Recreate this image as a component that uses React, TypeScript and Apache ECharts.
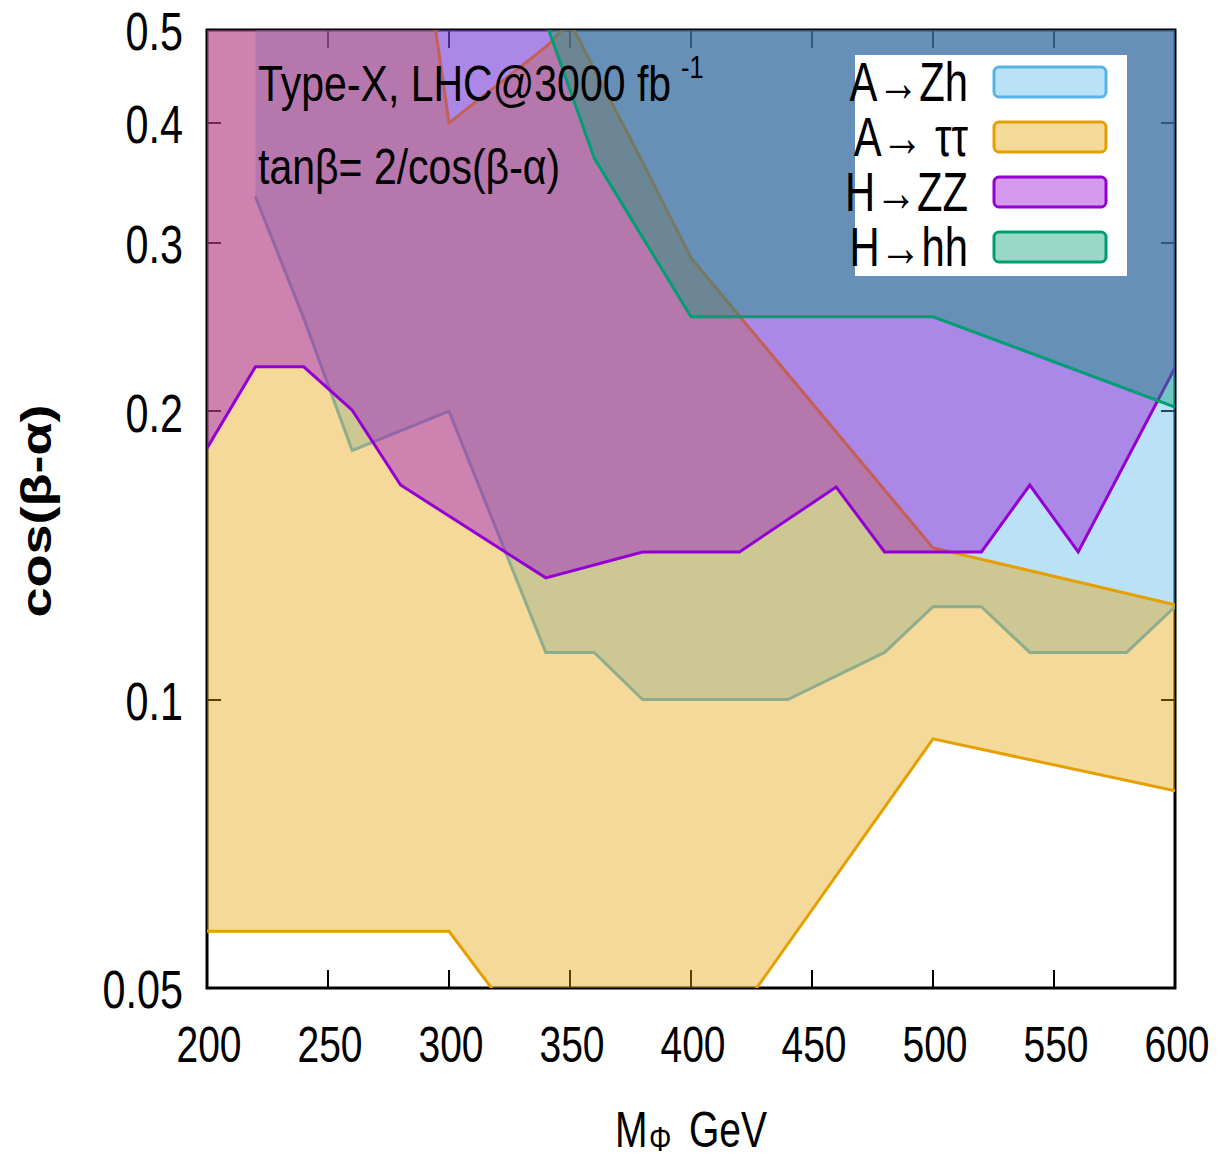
import React, { useEffect, useRef } from 'react';
import * as echarts from 'echarts';

// ---------- axes ----------
const X_MIN = 200;
const X_MAX = 600;
const X_TICKS = [200, 250, 300, 350, 400, 450, 500, 550, 600];
const Y_MIN = 0.05;
const Y_MAX = 0.5;
const Y_TICKS = [0.05, 0.1, 0.2, 0.3, 0.4, 0.5];
const Y_CEIL = 0.6; // regions extend past the top of the frame

// ---------- series ----------
const SERIES_NAMES = ['A→Zh', 'A→ ττ', 'H→ZZ', 'H→hh'];
const SERIES_COLORS = ['#56b4e9', '#e69f00', '#9400d3', '#009e73'];
const SERIES_FILLS = ['rgba(86,180,233,0.4)', 'rgba(230,159,0,0.4)', 'rgba(148,0,211,0.4)', 'rgba(0,158,115,0.4)'];

// A→Zh : region above this edge
const ZH_X = [220, 240, 260, 300, 340, 360, 380, 440, 480, 500, 520, 540, 580, 600];
const ZH_Y = [0.335, 0.25, 0.182, 0.2, 0.112, 0.112, 0.1, 0.1, 0.112, 0.125, 0.125, 0.112, 0.112, 0.125];

// A→ττ : band between lower and upper edges
const TT_LOW_X = [200, 300, 340, 400, 500, 600];
const TT_LOW_Y = [0.0573, 0.0573, 0.042, 0.04, 0.091, 0.0803];
const TT_UP_X = [200, 280, 300, 340, 350, 360, 380, 400, 500, 600];
const TT_UP_Y = [0.9, 0.9, 0.4, 0.48, 0.51, 0.455, 0.364, 0.289, 0.144, 0.1256];

// H→ZZ : region above this edge
const ZZ_X = [200, 220, 240, 260, 280, 340, 380, 420, 460, 480, 520, 540, 560, 600];
const ZZ_Y = [0.183, 0.2225, 0.2225, 0.2005, 0.1675, 0.134, 0.1426, 0.1426, 0.1667, 0.1426, 0.1426, 0.1675, 0.1426, 0.222];

// H→hh : region above this edge
const HH_X = [340, 360, 400, 500, 600];
const HH_Y = [0.51, 0.3676, 0.251, 0.251, 0.202];

const FONT = "'Liberation Sans', Arial, Helvetica, sans-serif";
const SQUEEZE = 0.78; // the reference's lettering is horizontally condensed

const zip = (xs: number[], ys: number[]) => xs.map((x, i) => [x, ys[i]]);

function regionSeries(idx: number, polygon: number[][], edges: number[][][]) {
  return {
    type: 'custom',
    name: SERIES_NAMES[idx],
    coordinateSystem: 'cartesian2d',
    xAxisIndex: 0,
    yAxisIndex: 0,
    clip: true,
    silent: true,
    z: 2 + idx,
    data: [polygon[0]],
    renderItem: (_params: any, api: any) => {
      const pts = polygon.map((p) => api.coord(p));
      const children: any[] = [
        { type: 'polygon', shape: { points: pts }, style: { fill: SERIES_FILLS[idx], stroke: null } },
      ];
      edges.forEach((e) => {
        children.push({
          type: 'polyline',
          shape: { points: e.map((p) => api.coord(p)) },
          style: { stroke: SERIES_COLORS[idx], lineWidth: 3, fill: null, lineJoin: 'miter' },
        });
      });
      return { type: 'group', children };
    },
  };
}

function txt(text: string, x: number, y: number, size: number, align: string, extra: any = {}) {
  return {
    type: 'text',
    x,
    y,
    z: 100,
    scaleX: SQUEEZE,
    silent: true,
    ...extra,
    style: { text, fill: '#000', font: `${size}px ${FONT}`, align, verticalAlign: 'middle' },
  };
}

export default function App() {
  const ref = useRef<HTMLDivElement>(null);

  useEffect(() => {
    if (!ref.current) return;
    const chart = echarts.init(ref.current, undefined, { renderer: 'svg' });

    const zhEdge = zip(ZH_X, ZH_Y);
    const zhPoly = [...zhEdge, [X_MAX, Y_CEIL], [ZH_X[0], Y_CEIL]];

    const ttLow = zip(TT_LOW_X, TT_LOW_Y);
    const ttUp = zip(TT_UP_X, TT_UP_Y);
    const ttPoly = [...ttLow, ...ttUp.slice().reverse()];

    const zzEdge = zip(ZZ_X, ZZ_Y);
    const zzPoly = [...zzEdge, [X_MAX, Y_CEIL], [X_MIN, Y_CEIL]];

    const hhEdge = zip(HH_X, HH_Y);
    const hhPoly = [...hhEdge, [X_MAX, Y_CEIL], [HH_X[0], Y_CEIL]];

    const tickStyle = { color: '#000', width: 2 };

    chart.setOption({
      animation: false,
      backgroundColor: '#fff',
      grid: {
        left: 207,
        top: 30,
        width: 968,
        height: 958,
        show: true,
        borderColor: '#000',
        borderWidth: 3,
        backgroundColor: 'transparent',
        containLabel: false,
      },
      xAxis: [
        {
          type: 'value',
          min: X_MIN,
          max: X_MAX,
          interval: 50,
          position: 'bottom',
          axisLine: { show: false },
          axisTick: { show: true, inside: true, length: 18, lineStyle: tickStyle },
          axisLabel: { show: false },
          splitLine: { show: false },
        },
        {
          type: 'value',
          min: X_MIN,
          max: X_MAX,
          interval: 50,
          position: 'top',
          axisLine: { show: false },
          axisTick: { show: true, inside: true, length: 18, lineStyle: tickStyle },
          axisLabel: { show: false },
          splitLine: { show: false },
        },
      ],
      yAxis: [
        {
          type: 'log',
          logBase: 10,
          min: Y_MIN,
          max: Y_MAX,
          position: 'left',
          axisLine: { show: false },
          axisTick: { show: true, inside: true, length: 14, lineStyle: tickStyle, customValues: Y_TICKS },
          axisLabel: { show: false },
          splitLine: { show: false },
          minorTick: { show: false },
        },
        {
          type: 'log',
          logBase: 10,
          min: Y_MIN,
          max: Y_MAX,
          position: 'right',
          axisLine: { show: false },
          axisTick: { show: true, inside: true, length: 14, lineStyle: tickStyle, customValues: Y_TICKS },
          axisLabel: { show: false },
          splitLine: { show: false },
        },
      ],
      series: [
        regionSeries(0, zhPoly, [zhEdge]),
        regionSeries(1, ttPoly, [ttLow, ttUp]),
        regionSeries(2, zzPoly, [zzEdge]),
        regionSeries(3, hhPoly, [hhEdge]),
      ],
    });

    // tick labels placed through the axes' own scales
    const graphics: any[] = [];
    const grid = { left: 207, top: 30, width: 968, height: 958 };
    X_TICKS.forEach((v) => {
      const px = chart.convertToPixel({ xAxisIndex: 0 }, v) as number;
      graphics.push(txt(String(v), px + 2, grid.top + grid.height + 57, 50, 'center'));
    });
    Y_TICKS.forEach((v) => {
      const py = chart.convertToPixel({ yAxisIndex: 0 }, v) as number;
      graphics.push(txt(String(v), grid.left - 24, py + 2, 53, 'right'));
    });

    // annotation
    graphics.push(txt('Type-X, LHC@3000 fb', 258, 84, 50, 'left', { scaleX: 0.82 }));
    graphics.push(txt('-1', 681, 67, 31, 'left', { scaleX: 0.82 }));
    graphics.push(txt('tanβ= 2/cos(β-α)', 258, 167, 50, 'left', { scaleX: 0.82 }));

    // legend: label right-aligned, swatch on its right
    const legendRows = [82, 137, 192, 247];
    graphics.push({ type: 'rect', z: 90, silent: true, shape: { x: 855, y: 55, width: 272, height: 221 }, style: { fill: '#fff' } });
    SERIES_NAMES.forEach((name, i) => {
      graphics.push(txt(name, 968, legendRows[i], 55, 'right', { scaleX: 0.76 }));
      graphics.push({
        type: 'rect',
        z: 95,
        silent: true,
        shape: { x: 994, y: legendRows[i] - 15, width: 112, height: 30, r: 5 },
        style: { fill: SERIES_FILLS[i], stroke: SERIES_COLORS[i], lineWidth: 3 },
      });
    });

    // axis titles
    graphics.push(txt('M', 615, 1130, 50, 'left'));
    graphics.push(txt('Φ', 649, 1139, 36, 'left'));
    graphics.push(txt('GeV', 689, 1130, 50, 'left'));
    graphics.push({
      type: 'text',
      x: 36,
      y: 511,
      z: 100,
      rotation: Math.PI / 2,
      scaleY: SQUEEZE,
      silent: true,
      style: { text: 'cos(β-α)', fill: '#000', font: `bold 54px ${FONT}`, align: 'center', verticalAlign: 'middle' },
    });

    chart.setOption({ graphic: { elements: graphics } });

    return () => chart.dispose();
  }, []);

  return <div ref={ref} style={{ position: 'absolute', left: 0, top: 0, width: 1218, height: 1159 }} />;
}
